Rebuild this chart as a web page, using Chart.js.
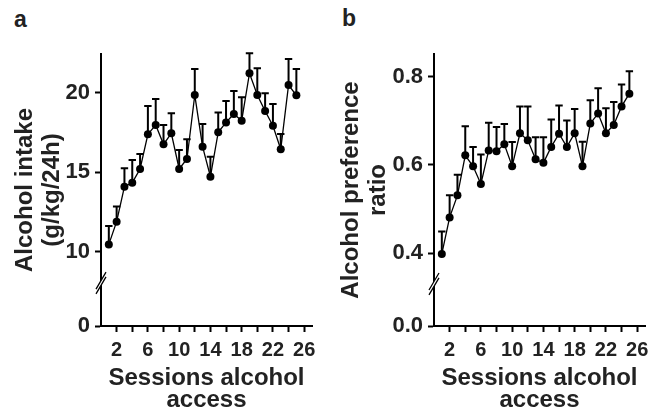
<!DOCTYPE html>
<html>
<head>
<meta charset="utf-8">
<script src="https://cdn.jsdelivr.net/npm/chart.js@4.4.1/dist/chart.umd.min.js"></script>
<style>
  html, body { margin: 0; padding: 0; background: #fff; }
  body { width: 649px; height: 409px; position: relative; overflow: hidden; font-family: "Liberation Sans", Arial, sans-serif; }
  .panel { position: absolute; top: 0; }
  .letter { position: absolute; font-family: "Liberation Sans", Arial, sans-serif; font-weight: bold; font-size: 23px; line-height: 23px; color: #222; }
</style>
</head>
<body>
<div class="letter" style="left:14px; top:8px;">a</div>
<div class="letter" style="left:342px; top:7px;">b</div>
<div class="panel" style="left:0px;"><canvas id="chartA" width="325" height="409"></canvas></div>
<div class="panel" style="left:325px;"><canvas id="chartB" width="324" height="409"></canvas></div>
<script>
// ---------- data ----------
const sessions = [1,2,3,4,5,6,7,8,9,10,11,12,13,14,15,16,17,18,19,20,21,22,23,24,25];

const intakeMean = [10.46,11.89,14.09,14.34,15.20,17.38,17.97,16.75,17.44,15.20,15.83,19.85,16.60,14.72,17.51,18.13,18.66,18.24,21.22,19.85,18.85,17.92,16.44,20.48,19.83];
const intakeSem  = [1.15,0.96,1.15,1.43,0.94,1.78,1.63,1.22,1.26,1.19,1.24,1.64,1.43,1.25,1.25,1.35,1.44,1.47,1.25,1.68,1.11,1.37,0.96,1.64,1.66];

const prefMean = [0.398,0.481,0.531,0.622,0.597,0.557,0.633,0.631,0.647,0.597,0.672,0.656,0.613,0.605,0.641,0.671,0.641,0.672,0.597,0.694,0.717,0.672,0.691,0.733,0.762];
const prefSem  = [0.051,0.050,0.047,0.066,0.044,0.067,0.063,0.055,0.046,0.055,0.061,0.077,0.050,0.058,0.062,0.064,0.060,0.055,0.056,0.053,0.057,0.057,0.052,0.050,0.051];

const xTickValues = [2,4,6,8,10,12,14,16,18,20,22,24,26];
const xTickLabels = ['2','','6','','10','','14','','18','','22','','26'];

const intakeTickValues = [10,15,20];
const intakeTickLabels = ['10','15','20'];
const intakeZeroLabel = '0';
const intakeAxisRange = [5.33, 22.43];
const intakeBreakAt = 8.03;

const prefTickValues = [0.4,0.6,0.8];
const prefTickLabels = ['0.4','0.6','0.8'];
const prefZeroLabel = '0.0';
const prefAxisRange = [0.2344, 0.852];
const prefBreakAt = 0.33;

const sessionRange = [0, 27];

const xTitle = ['Sessions alcohol', 'access'];
const intakeTitle = ['Alcohol intake', '(g/kg/24h)'];
const prefTitle = ['Alcohol preference', 'ratio'];

// ---------- helpers ----------
const FONT = '"Liberation Sans", Arial, Helvetica, sans-serif';
const TEXT = '#222';

const errorBarsPlugin = {
  id: 'errorBars',
  beforeDatasetsDraw(chart) {
    const o = chart.options.plugins.errorBars;
    const xs = chart.scales.x, ys = chart.scales.y;
    const ctx = chart.ctx;
    ctx.save();
    ctx.strokeStyle = '#000';
    ctx.lineWidth = 2;
    o.means.forEach((m, i) => {
      const x = xs.getPixelForValue(o.xs[i]);
      const y0 = ys.getPixelForValue(m);
      const y1 = ys.getPixelForValue(m + o.sems[i]);
      ctx.beginPath();
      ctx.moveTo(x, y0);
      ctx.lineTo(x, y1);
      ctx.moveTo(x - 3.7, y1);
      ctx.lineTo(x + 3.7, y1);
      ctx.stroke();
    });
    ctx.restore();
  },
  afterDraw(chart) {
    const o = chart.options.plugins.errorBars;
    const ys = chart.scales.y;
    const ctx = chart.ctx;
    const cx = chart.chartArea.left;
    const cy = ys.getPixelForValue(o.breakAt);
    const dx = 5, dy = 8.5, g = 2.4;
    ctx.save();
    ctx.fillStyle = '#fff';
    ctx.beginPath();
    ctx.moveTo(cx - dx, cy + dy - g);
    ctx.lineTo(cx + dx, cy - dy - g);
    ctx.lineTo(cx + dx, cy - dy + g);
    ctx.lineTo(cx - dx, cy + dy + g);
    ctx.closePath();
    ctx.fill();
    ctx.strokeStyle = '#000';
    ctx.lineWidth = 1.3;
    ctx.beginPath();
    ctx.moveTo(cx - dx, cy + dy - g);
    ctx.lineTo(cx + dx, cy - dy - g);
    ctx.moveTo(cx - dx, cy + dy + g);
    ctx.lineTo(cx + dx, cy - dy + g);
    ctx.stroke();
    ctx.restore();
  }
};

function makeChart(id, cfg) {
  const points = sessions.map((s, i) => ({ x: s, y: cfg.means[i] }));
  return new Chart(document.getElementById(id), {
    type: 'line',
    data: {
      datasets: [{
        data: points,
        borderColor: '#000',
        borderWidth: 1.3,
        backgroundColor: '#000',
        pointRadius: 4,
        pointBackgroundColor: '#000',
        pointBorderColor: '#000',
        pointBorderWidth: 0,
        tension: 0,
        clip: false
      }]
    },
    options: {
      responsive: false,
      animation: false,
      devicePixelRatio: 1,
      layout: { padding: { left: 0, top: 54, right: cfg.padRight, bottom: 0 } },
      plugins: {
        legend: { display: false },
        tooltip: { enabled: false },
        errorBars: { xs: sessions, means: cfg.means, sems: cfg.sems, breakAt: cfg.breakAt }
      },
      scales: {
        x: {
          type: 'linear',
          min: sessionRange[0],
          max: sessionRange[1],
          afterBuildTicks: s => { s.ticks = xTickValues.map(v => ({ value: v })); },
          ticks: {
            autoSkip: false, maxRotation: 0, minRotation: 0,
            padding: 6,
            color: TEXT,
            font: { family: FONT, size: 20, weight: 'bold' },
            callback: (v) => { const k = xTickValues.indexOf(v); return k >= 0 ? xTickLabels[k] : ''; }
          },
          grid: { drawOnChartArea: false, drawTicks: true, tickLength: 6, tickWidth: 2, tickColor: '#000' },
          border: { display: true, color: '#000', width: 2 },
          title: {
            display: true, text: xTitle, color: TEXT,
            font: { family: FONT, size: 24, weight: 'bold', lineHeight: '22px' },
            padding: { top: 0, bottom: -2 }
          },
          afterFit: s => { s.height = 83; s.paddingLeft = 0; s.paddingRight = 0; }
        },
        y: {
          type: 'linear',
          min: cfg.range[0],
          max: cfg.range[1],
          afterBuildTicks: s => { s.ticks = [cfg.range[0]].concat(cfg.tickValues).map(v => ({ value: v })); },
          ticks: {
            padding: 5,
            color: TEXT,
            font: { family: FONT, size: 22, weight: 'bold' },
            callback: (v) => {
              if (v === cfg.range[0]) return cfg.zeroLabel;
              const k = cfg.tickValues.indexOf(v);
              return k >= 0 ? cfg.tickLabels[k] : '';
            }
          },
          grid: { drawOnChartArea: false, drawTicks: true, tickLength: 6, tickWidth: 2, tickColor: '#000' },
          border: { display: true, color: '#000', width: 2 },
          title: {
            display: true, text: cfg.title, color: TEXT,
            font: { family: FONT, size: 24, weight: 'bold', lineHeight: '27px' },
            padding: { top: cfg.titlePad, bottom: 0 }
          },
          afterFit: s => { s.width = cfg.yWidth; s.paddingTop = 0; s.paddingBottom = 0; }
        }
      }
    },
    plugins: [errorBarsPlugin]
  });
}

makeChart('chartA', {
  means: intakeMean, sems: intakeSem, range: intakeAxisRange,
  tickValues: intakeTickValues, tickLabels: intakeTickLabels, zeroLabel: intakeZeroLabel,
  breakAt: intakeBreakAt, title: intakeTitle, titlePad: 11.5, yWidth: 101, padRight: 13
});
makeChart('chartB', {
  means: prefMean, sems: prefSem, range: prefAxisRange,
  tickValues: prefTickValues, tickLabels: prefTickLabels, zeroLabel: prefZeroLabel,
  breakAt: prefBreakAt, title: prefTitle, titlePad: 13, yWidth: 109, padRight: 4
});
</script>
</body>
</html>
